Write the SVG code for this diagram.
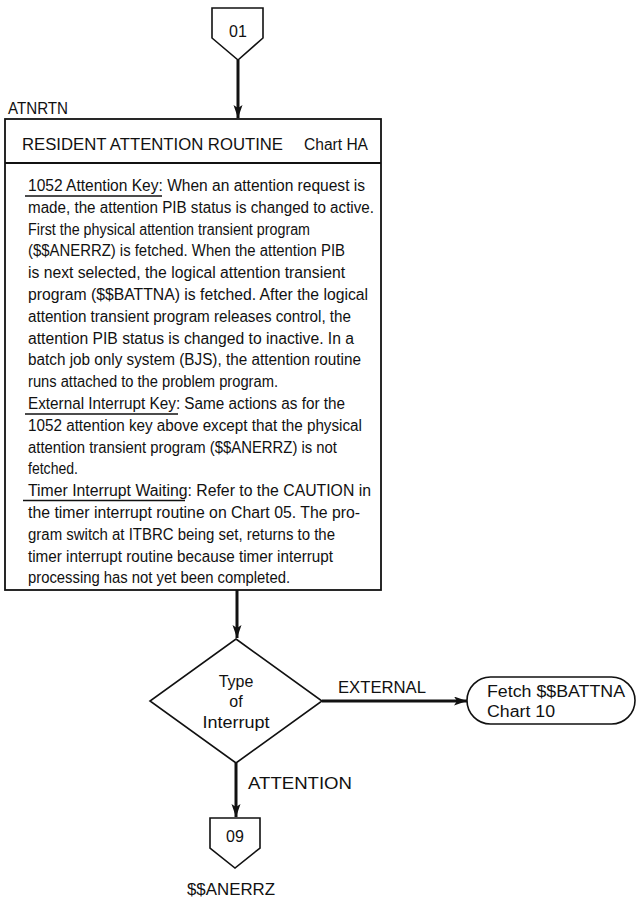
<svg xmlns="http://www.w3.org/2000/svg" width="637" height="903" viewBox="0 0 637 903" xml:space="preserve">
  <defs>
    <marker id="arrow" markerUnits="userSpaceOnUse" markerWidth="14" markerHeight="10" refX="13" refY="4.5" orient="auto">
      <path d="M0,0 L13,4.5 L0,9 L3,4.5 z" fill="#111"/>
    </marker>
    <style>
      text { font-family: "Liberation Sans", Arial, sans-serif; fill: #111; font-size: 16px; }
      .mid { text-anchor: middle; }
      .shape { fill: #fff; stroke: #111; stroke-width: 1.6; }
      .box { fill: #fff; stroke: #111; stroke-width: 1.8; }
      .flow { fill: none; stroke: #111; stroke-width: 3; }
      .ul { stroke: #111; stroke-width: 1.3; }
    </style>
  </defs>

  <rect width="637" height="903" fill="#fff"/>

  <!-- flow lines -->
  <g id="connectors">
    <line class="flow" x1="238" y1="60" x2="238" y2="118" marker-end="url(#arrow)"/>
    <line class="flow" x1="237" y1="590" x2="237" y2="638" marker-end="url(#arrow)"/>
    <line class="flow" x1="322" y1="701" x2="467" y2="701" marker-end="url(#arrow)"/>
    <line class="flow" x1="236" y1="763" x2="236" y2="817" marker-end="url(#arrow)"/>
    <text x="338" y="693" textLength="88" lengthAdjust="spacingAndGlyphs">EXTERNAL</text>
    <text x="248" y="789" textLength="104" lengthAdjust="spacingAndGlyphs">ATTENTION</text>
  </g>

  <!-- entry connector 01 -->
  <g id="entry01">
    <polygon class="shape" points="212,8 263,8 263,38 238,60 212,38"/>
    <text class="mid" x="238" y="37" font-size="17">01</text>
  </g>

  <!-- resident attention routine block -->
  <g id="atnrtn">
    <text x="8" y="114" textLength="60" lengthAdjust="spacingAndGlyphs">ATNRTN</text>
    <rect class="box" x="5" y="119" width="376" height="471"/>
    <line class="box" x1="5" y1="163" x2="381" y2="163"/>
    <text x="22" y="150" textLength="261" lengthAdjust="spacingAndGlyphs">RESIDENT ATTENTION ROUTINE</text>
    <text x="304" y="150" textLength="64" lengthAdjust="spacingAndGlyphs">Chart HA</text>

    <text x="28" y="191" textLength="337" lengthAdjust="spacingAndGlyphs">1052 Attention Key:  When an attention request is</text>
    <text x="28" y="212.8" textLength="346" lengthAdjust="spacingAndGlyphs">made, the attention PIB status is changed to active.</text>
    <text x="28" y="234.6" textLength="282" lengthAdjust="spacingAndGlyphs">First the physical attention transient program</text>
    <text x="28" y="256.4" textLength="317" lengthAdjust="spacingAndGlyphs">($$ANERRZ) is fetched.  When the attention PIB</text>
    <text x="28" y="278.2" textLength="317" lengthAdjust="spacingAndGlyphs">is next selected, the logical attention transient</text>
    <text x="28" y="300" textLength="340" lengthAdjust="spacingAndGlyphs">program ($$BATTNA) is fetched.  After the logical</text>
    <text x="28" y="321.8" textLength="323" lengthAdjust="spacingAndGlyphs">attention transient program releases control, the</text>
    <text x="28" y="343.6" textLength="326" lengthAdjust="spacingAndGlyphs">attention PIB status is changed to inactive.  In a</text>
    <text x="28" y="365.4" textLength="333" lengthAdjust="spacingAndGlyphs">batch job only system (BJS), the attention routine</text>
    <text x="28" y="387.2" textLength="250" lengthAdjust="spacingAndGlyphs">runs attached to the problem program.</text>
    <text x="28" y="409" textLength="317" lengthAdjust="spacingAndGlyphs">External Interrupt Key:  Same actions as for the</text>
    <text x="28" y="430.8" textLength="334" lengthAdjust="spacingAndGlyphs">1052 attention key above except that the physical</text>
    <text x="28" y="452.6" textLength="309" lengthAdjust="spacingAndGlyphs">attention transient program ($$ANERRZ) is not</text>
    <text x="28" y="474.4" textLength="50" lengthAdjust="spacingAndGlyphs">fetched.</text>
    <text x="28" y="496.2" textLength="343" lengthAdjust="spacingAndGlyphs">Timer Interrupt Waiting:  Refer to the CAUTION in</text>
    <text x="28" y="518" textLength="332" lengthAdjust="spacingAndGlyphs">the timer interrupt routine on Chart 05.  The pro-</text>
    <text x="28" y="539.8" textLength="307" lengthAdjust="spacingAndGlyphs">gram switch at ITBRC being set, returns to the</text>
    <text x="28" y="561.6" textLength="305" lengthAdjust="spacingAndGlyphs">timer interrupt routine because timer interrupt</text>
    <text x="28" y="583" textLength="262" lengthAdjust="spacingAndGlyphs">processing has not yet been completed.</text>

    <!-- underlined headings -->
    <line class="ul" x1="25" y1="196" x2="162" y2="196"/>
    <line class="ul" x1="25" y1="414" x2="178" y2="414"/>
    <line class="ul" x1="23" y1="500.5" x2="185" y2="500.5"/>
  </g>

  <!-- decision: type of interrupt -->
  <g id="decision">
    <polygon class="shape" points="236,639 322,701 236,763 150,701"/>
    <text class="mid" x="236" y="687">Type</text>
    <text class="mid" x="236" y="707">of</text>
    <text class="mid" x="236" y="728" textLength="67" lengthAdjust="spacingAndGlyphs">Interrupt</text>
  </g>

  <!-- exit to chart 10 -->
  <g id="fetchBattna">
    <rect class="shape" x="467" y="677" width="168" height="47" rx="23.5"/>
    <text x="487" y="697" textLength="138" lengthAdjust="spacingAndGlyphs">Fetch $$BATTNA</text>
    <text x="487" y="717" textLength="68" lengthAdjust="spacingAndGlyphs">Chart 10</text>
  </g>

  <!-- exit connector 09 -->
  <g id="exit09">
    <polygon class="shape" points="210,818 260,818 260,848 235,868 210,848"/>
    <text class="mid" x="235" y="842" font-size="17">09</text>
    <text x="187" y="895" textLength="88" lengthAdjust="spacingAndGlyphs">$$ANERRZ</text>
  </g>
</svg>
